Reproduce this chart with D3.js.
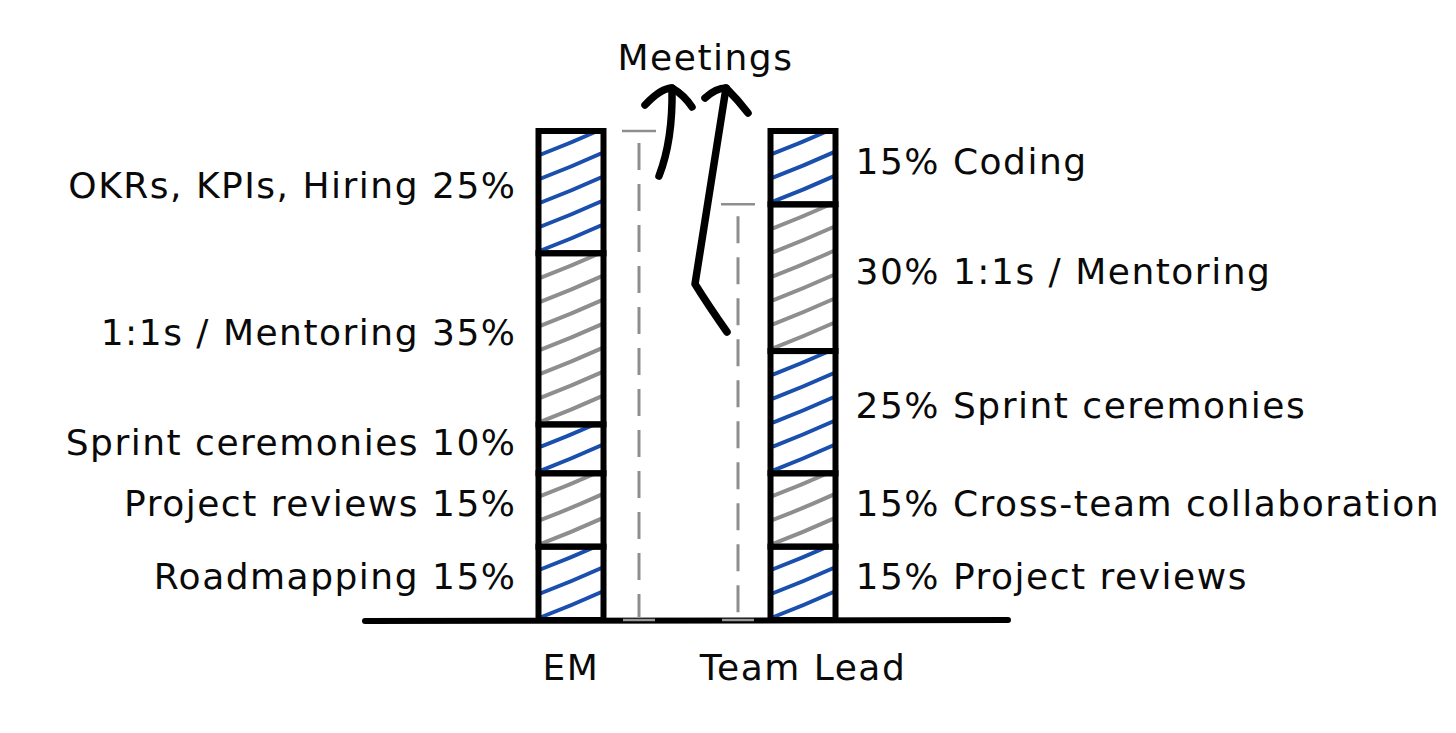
<!DOCTYPE html>
<html>
<head>
<meta charset="utf-8">
<script src="https://cdn.jsdelivr.net/npm/d3@7"></script>
<style>
  html, body { margin: 0; padding: 0; background: #fff; }
  svg { display: block; }
  text { font-family: "DejaVu Sans", sans-serif; fill: #0a0a0a; letter-spacing: 1.5px; }
</style>
</head>
<body>
<svg id="chart" width="1456" height="733"></svg>
<script>
// ---- data ----
const categories = ["EM", "Team Lead"];
const emTasks = ["Roadmapping", "Project reviews", "Sprint ceremonies", "1:1s / Mentoring", "OKRs, KPIs, Hiring"];
const emValues = [15, 15, 10, 35, 25];
const tlTasks = ["Project reviews", "Cross-team collaboration", "Sprint ceremonies", "1:1s / Mentoring", "Coding"];
const tlValues = [15, 15, 25, 30, 15];
const meetingsShare = [100, 85];   // height of the dashed "meetings" marker for EM / Team Lead
const annotation = "Meetings";

// ---- layout ----
const svg = d3.select("#chart");
const baseY = 620, topY = 131;
const x = d3.scalePoint().domain(categories).range([571, 803]);
const y = d3.scaleLinear().domain([0, 100]).range([baseY, topY]);
const barW = 65;
const BLUE = "#1a4fae", GREY = "#8e8e8e";
const fontSize = 36;

function stackOf(tasks, values) {
  let acc = 0;
  return tasks.map((t, i) => {
    const d = { task: t, value: values[i], y0: acc, y1: acc + values[i], i };
    acc += values[i];
    return d;
  });
}
const series = [
  { cat: "EM", data: stackOf(emTasks, emValues), side: "left", meet: meetingsShare[0], meetOff: 68 },
  { cat: "Team Lead", data: stackOf(tlTasks, tlValues), side: "right", meet: meetingsShare[1], meetOff: -65 }
];

const defs = svg.append("defs");

series.forEach((s, si) => {
  const cx = x(s.cat), x0 = cx - barW / 2, x1 = cx + barW / 2;
  const g = svg.append("g");
  s.data.forEach((d, di) => {
    const yt = y(d.y1), yb = y(d.y0);
    const id = `clip-${si}-${di}`;
    defs.append("clipPath").attr("id", id)
      .append("rect").attr("x", x0).attr("y", yt).attr("width", barW).attr("height", yb - yt);
    const color = di % 2 === 0 ? BLUE : GREY;
    const rise = 25, step = 24;
    const starts = d3.range(yb - 3, yt + 8, -step);
    g.append("g").attr("clip-path", `url(#${id})`)
      .selectAll("path").data(starts).join("path")
      .attr("d", v => `M${x0 + 3},${v} Q${cx},${v - rise * 0.45} ${x1 - 2},${v - rise}`)
      .attr("fill", "none").attr("stroke", color).attr("stroke-width", 4)
      .attr("stroke-linecap", "round");
    g.append("rect").attr("x", x0).attr("y", yt).attr("width", barW).attr("height", yb - yt)
      .attr("fill", "none").attr("stroke", "#000").attr("stroke-width", 6);

    // labels
    const ym = (yt + yb) / 2 - 4;
    const label = s.side === "left" ? `${d.task} ${d.value}%` : `${d.value}% ${d.task}`;
    svg.append("text")
      .attr("x", s.side === "left" ? x0 - 22 : x1 + 20)
      .attr("y", ym)
      .attr("text-anchor", s.side === "left" ? "end" : "start")
      .attr("dominant-baseline", "middle")
      .attr("font-size", fontSize)
      .text(label);
  });

  // meetings dashed marker
  const mx = cx + s.meetOff;
  svg.append("line").attr("x1", mx).attr("x2", mx)
    .attr("y1", y(s.meet) + 12).attr("y2", baseY - 3)
    .attr("stroke", GREY).attr("stroke-width", 3).attr("stroke-dasharray", "27,14");
  svg.append("line").attr("x1", mx - 17).attr("x2", mx + 17)
    .attr("y1", y(s.meet)).attr("y2", y(s.meet))
    .attr("stroke", GREY).attr("stroke-width", 2.5);

  // category label
  svg.append("text").attr("x", cx).attr("y", 680)
    .attr("text-anchor", "middle").attr("font-size", fontSize).text(s.cat);
});

// baseline
svg.append("path")
  .attr("d", `M365,${baseY + 1} L${x(categories[1]) + 205},${baseY}`)
  .attr("stroke", "#000").attr("stroke-width", 6).attr("stroke-linecap", "round");
series.forEach(s => {
  const mx = x(s.cat) + s.meetOff;
  svg.append("line").attr("x1", mx - 16).attr("x2", mx + 16).attr("y1", baseY).attr("y2", baseY)
    .attr("stroke", "#999").attr("stroke-width", 2.5);
});

// arrows to "Meetings"
const emMx = x("EM") + series[0].meetOff, tlMx = x("Team Lead") + series[1].meetOff;
const arrow = svg.append("g").attr("fill", "none").attr("stroke", "#000")
  .attr("stroke-width", 7.5).attr("stroke-linecap", "round").attr("stroke-linejoin", "round");
// left arrow
arrow.append("path").attr("d", `M${emMx + 20},176 Q${emMx + 34},140 ${emMx + 33},88`);
arrow.append("path").attr("d", `M${emMx + 6},105 Q${emMx + 22},88 ${emMx + 33},88 Q${emMx + 45},95 ${emMx + 53},107`);
// right arrow
arrow.append("path").attr("d", `M${tlMx - 11},332 Q${tlMx - 30},305 ${tlMx - 43},284 L${tlMx - 12},88`);
arrow.append("path").attr("d", `M${tlMx - 33},98 Q${tlMx - 22},88 ${tlMx - 12},88 Q${tlMx},100 ${tlMx + 10},113`);

svg.append("text").attr("x", (emMx + tlMx) / 2 + 17).attr("y", 70)
  .attr("text-anchor", "middle").attr("font-size", fontSize).text(annotation);
</script>
</body>
</html>
